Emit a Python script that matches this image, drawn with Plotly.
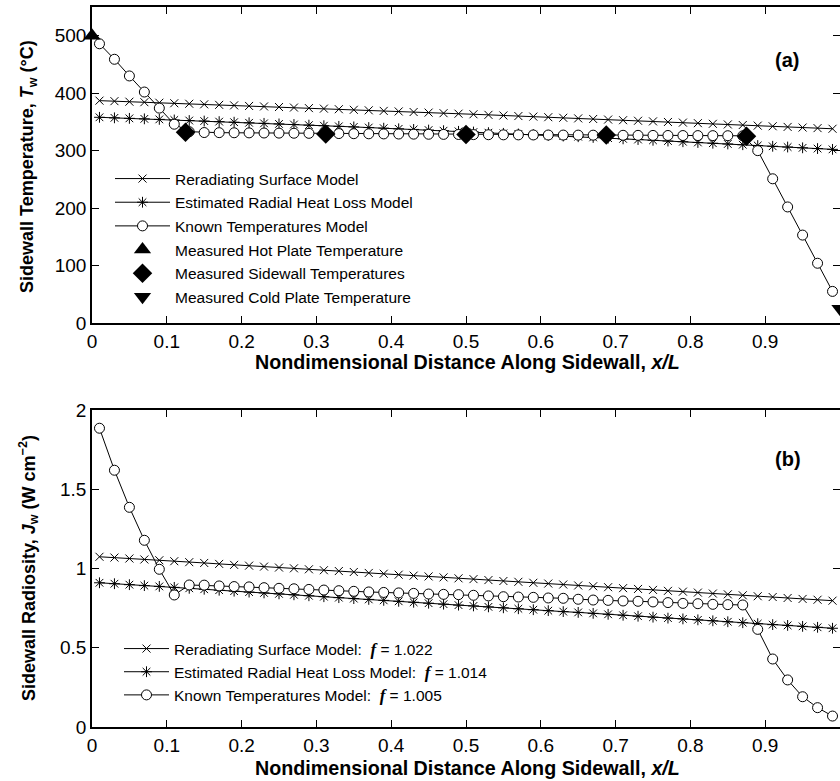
import plotly.graph_objects as go

FONT = "Arial, Liberation Sans, sans-serif"

# ---------------- data ----------------
x_model = [0.01, 0.03, 0.05, 0.07, 0.09, 0.11, 0.13, 0.15, 0.17, 0.19,
           0.21, 0.23, 0.25, 0.27, 0.29, 0.31, 0.33, 0.35, 0.37, 0.39,
           0.41, 0.43, 0.45, 0.47, 0.49, 0.51, 0.53, 0.55, 0.57, 0.59,
           0.61, 0.63, 0.65, 0.67, 0.69, 0.71, 0.73, 0.75, 0.77, 0.79,
           0.81, 0.83, 0.85, 0.87, 0.89, 0.91, 0.93, 0.95, 0.97, 0.99]

# Panel (a): sidewall temperature (deg C)
T_rerad = [387.0, 386.1, 385.2, 384.3, 383.4, 382.5, 381.6, 380.6, 379.7, 378.8,
           377.8, 376.9, 375.9, 375.0, 374.0, 373.1, 372.1, 371.1, 370.2, 369.2,
           368.2, 367.2, 366.2, 365.2, 364.3, 363.3, 362.3, 361.2, 360.2, 359.2,
           358.2, 357.2, 356.1, 355.1, 354.1, 353.0, 352.0, 350.9, 349.9, 348.8,
           347.8, 346.7, 345.6, 344.6, 343.5, 342.4, 341.3, 340.2, 339.2, 338.1]
T_radloss = [358.0, 357.1, 356.2, 355.3, 354.4, 353.4, 352.4, 351.5, 350.5, 349.5,
             348.5, 347.5, 346.5, 345.5, 344.4, 343.4, 342.3, 341.3, 340.2, 339.1,
             338.0, 336.9, 335.8, 334.7, 333.6, 332.4, 331.3, 330.1, 329.0, 327.8,
             326.6, 325.4, 324.2, 323.0, 321.7, 320.5, 319.3, 318.0, 316.7, 315.5,
             314.2, 312.9, 311.6, 310.3, 308.9, 307.6, 306.3, 304.9, 303.6, 302.2]
T_known = [486.0, 459.0, 430.0, 402.0, 374.0, 346.0, 333.0, 331.5, 331.3, 331.1,
           330.9, 330.7, 330.5, 330.3, 330.1, 329.9, 329.7, 329.5, 329.3, 329.1,
           328.9, 328.7, 328.5, 328.3, 328.1, 327.9, 327.7, 327.5, 327.4, 327.3,
           327.2, 327.1, 327.0, 326.9, 326.8, 326.7, 326.6, 326.5, 326.4, 326.3,
           326.2, 326.1, 326.0, 325.8, 300.0, 251.0, 202.0, 153.0, 104.0, 55.0]

x_hot = [0.0]
T_hot = [500.0]
x_side = [0.125, 0.3125, 0.5, 0.6875, 0.875]
T_side = [332.0, 329.0, 328.0, 327.0, 325.0]
x_cold = [1.0]
T_cold = [25.0]

# Panel (b): sidewall radiosity (W cm^-2)
J_rerad = [1.074, 1.069, 1.063, 1.057, 1.052, 1.046, 1.040, 1.035, 1.029, 1.023,
           1.018, 1.012, 1.006, 1.001, 0.995, 0.989, 0.984, 0.978, 0.972, 0.967,
           0.961, 0.955, 0.950, 0.944, 0.938, 0.933, 0.927, 0.921, 0.916, 0.910,
           0.905, 0.899, 0.893, 0.888, 0.882, 0.876, 0.871, 0.865, 0.859, 0.854,
           0.848, 0.842, 0.837, 0.831, 0.825, 0.820, 0.814, 0.808, 0.803, 0.797]
J_radloss = [0.910, 0.904, 0.898, 0.892, 0.887, 0.881, 0.875, 0.869, 0.863, 0.857,
             0.851, 0.846, 0.840, 0.834, 0.828, 0.822, 0.816, 0.810, 0.805, 0.799,
             0.793, 0.787, 0.781, 0.775, 0.769, 0.764, 0.758, 0.752, 0.746, 0.740,
             0.734, 0.728, 0.723, 0.717, 0.711, 0.705, 0.699, 0.693, 0.687, 0.682,
             0.676, 0.670, 0.664, 0.658, 0.652, 0.646, 0.641, 0.635, 0.629, 0.623]
J_known = [1.885, 1.620, 1.386, 1.178, 0.995, 0.833, 0.896, 0.895, 0.890, 0.886,
           0.884, 0.879, 0.875, 0.872, 0.868, 0.864, 0.860, 0.856, 0.852, 0.849,
           0.846, 0.843, 0.839, 0.837, 0.835, 0.831, 0.827, 0.822, 0.820, 0.818,
           0.814, 0.812, 0.806, 0.801, 0.799, 0.795, 0.793, 0.789, 0.785, 0.780,
           0.778, 0.774, 0.772, 0.770, 0.616, 0.429, 0.297, 0.191, 0.122, 0.069]

f_values = ["1.022", "1.014", "1.005"]
x_ticks = [0, 0.1, 0.2, 0.3, 0.4, 0.5, 0.6, 0.7, 0.8, 0.9, 1]
ya_ticks = [0, 100, 200, 300, 400, 500]
yb_ticks = [0, 0.5, 1, 1.5, 2]

names_a = ["Reradiating Surface Model", "Estimated Radial Heat Loss Model",
           "Known Temperatures Model", "Measured Hot Plate Temperature",
           "Measured Sidewall Temperatures", "Measured Cold Plate Temperature"]
FSPAN = ("<span style='font-family:Liberation Serif, Times New Roman, serif;font-size:17px'>"
         "<b><i>f</i></b></span>")
names_b = [names_a[0] + ":&nbsp; " + FSPAN + " = " + f_values[0],
           names_a[1] + ":&nbsp; " + FSPAN + " = " + f_values[1],
           names_a[2] + ":&nbsp; " + FSPAN + " = " + f_values[2]]

# ---------------- figure ----------------
W, H = 840, 781
ML = 92
PW = W - ML

def px(xr):
    return (xr - ML) / PW

def py(yr):
    return (H - yr) / H

fig = go.Figure()
LINE = dict(color="black", width=1)

def model_traces(ys, xa, ya, legend, names):
    fig.add_trace(go.Scatter(x=x_model, y=ys[0], mode="lines+markers", name=names[0],
                             xaxis=xa, yaxis=ya, legend=legend, legendgroup=legend + "1",
                             line=LINE, cliponaxis=False,
                             marker=dict(symbol="x-thin-open", size=8, color="black",
                                         line=dict(color="black", width=1))))
    fig.add_trace(go.Scatter(x=x_model, y=ys[1], mode="lines+markers", name=names[1],
                             xaxis=xa, yaxis=ya, legend=legend, legendgroup=legend + "2",
                             line=LINE, cliponaxis=False,
                             marker=dict(symbol="asterisk-open", size=9, color="black",
                                         line=dict(color="black", width=1))))
    fig.add_trace(go.Scatter(x=x_model, y=ys[2], mode="lines+markers", name=names[2],
                             xaxis=xa, yaxis=ya, legend=legend, legendgroup=legend + "3",
                             line=LINE, cliponaxis=False,
                             marker=dict(symbol="circle", size=10, color="white",
                                         line=dict(color="black", width=1))))

model_traces([T_rerad, T_radloss, T_known], "x", "y", "legend", names_a)
fig.add_trace(go.Scatter(x=x_hot, y=T_hot, mode="markers", name=names_a[3],
                         xaxis="x", yaxis="y", legend="legend", legendgroup="legend4",
                         cliponaxis=False,
                         marker=dict(symbol="triangle-up", size=15, color="black")))
fig.add_trace(go.Scatter(x=x_side, y=T_side, mode="markers", name=names_a[4],
                         xaxis="x", yaxis="y", legend="legend", legendgroup="legend5",
                         cliponaxis=False,
                         marker=dict(symbol="diamond", size=15, color="black")))
fig.add_trace(go.Scatter(x=x_cold, y=T_cold, mode="markers", name=names_a[5],
                         xaxis="x", yaxis="y", legend="legend", legendgroup="legend6",
                         cliponaxis=False,
                         marker=dict(symbol="triangle-down", size=15, color="black")))
model_traces([J_rerad, J_radloss, J_known], "x2", "y2", "legend2", names_b)

axis_common = dict(showline=True, linecolor="black", linewidth=1.5, mirror="allticks",
                   ticks="inside", ticklen=7, tickwidth=1, tickcolor="black",
                   showgrid=False, zeroline=False, automargin=False,
                   tickfont=dict(family=FONT, size=19, color="black"))

fig.update_layout(
    width=W, height=H,
    margin=dict(l=ML, r=0, t=0, b=0),
    paper_bgcolor="white", plot_bgcolor="white",
    font=dict(family=FONT, color="black"),
    xaxis=dict(domain=[0, 1], anchor="y", range=[0, 1], tickvals=x_ticks, **axis_common),
    yaxis=dict(domain=[py(323), py(7)], anchor="x", range=[0, 550], tickvals=ya_ticks, **axis_common),
    xaxis2=dict(domain=[0, 1], anchor="y2", range=[0, 1], tickvals=x_ticks, **axis_common),
    yaxis2=dict(domain=[py(727), py(410)], anchor="x2", range=[0, 2], tickvals=yb_ticks, **axis_common),
    legend=dict(x=px(110), y=py(162), xanchor="left", yanchor="top", bgcolor="rgba(0,0,0,0)",
                font=dict(family=FONT, size=15.5, color="black"), itemwidth=55,
                traceorder="grouped", tracegroupgap=0.5),
    legend2=dict(x=px(119), y=py(632), xanchor="left", yanchor="top", bgcolor="rgba(0,0,0,0)",
                 font=dict(family=FONT, size=15.5, color="black"), itemwidth=45,
                 traceorder="grouped", tracegroupgap=0),
    showlegend=True,
)

title_font = dict(family=FONT, size=19.7, color="black")
ytitle_font = dict(family=FONT, size=18, color="black")
xlab = "<b>Nondimensional Distance Along Sidewall, <i>x/L</i></b>"
fig.add_annotation(text=xlab, xref="paper", yref="paper", x=px(467), y=py(362),
                   xanchor="center", yanchor="middle", showarrow=False, font=title_font)
fig.add_annotation(text=xlab, xref="paper", yref="paper", x=px(467), y=py(768),
                   xanchor="center", yanchor="middle", showarrow=False, font=title_font)
fig.add_annotation(text="<b>Sidewall Temperature, <i>T</i><sub>w</sub> (°C)</b>",
                   xref="paper", yref="paper", x=px(28), y=py(167),
                   xanchor="center", yanchor="middle", textangle=-90, showarrow=False,
                   font=ytitle_font)
fig.add_annotation(text="<b>Sidewall Radiosity, <i>J</i><sub>w</sub> (W cm<sup>−2</sup>)</b>",
                   xref="paper", yref="paper", x=px(28), y=py(568),
                   xanchor="center", yanchor="middle", textangle=-90, showarrow=False,
                   font=ytitle_font)
fig.add_annotation(text="<b>(a)</b>", xref="paper", yref="paper", x=px(787),
                   y=py(60), xanchor="center", yanchor="middle", showarrow=False,
                   font=dict(family=FONT, size=20, color="black"))
fig.add_annotation(text="<b>(b)</b>", xref="paper", yref="paper", x=px(788),
                   y=py(459), xanchor="center", yanchor="middle", showarrow=False,
                   font=dict(family=FONT, size=20, color="black"))

# remove the default 8px page margin so the figure fills the 840x781 window exactly
fig.write_html("out.html",
               config={"displayModeBar": False},
               post_script="document.body.style.margin='0';document.documentElement.style.overflow='hidden';")
